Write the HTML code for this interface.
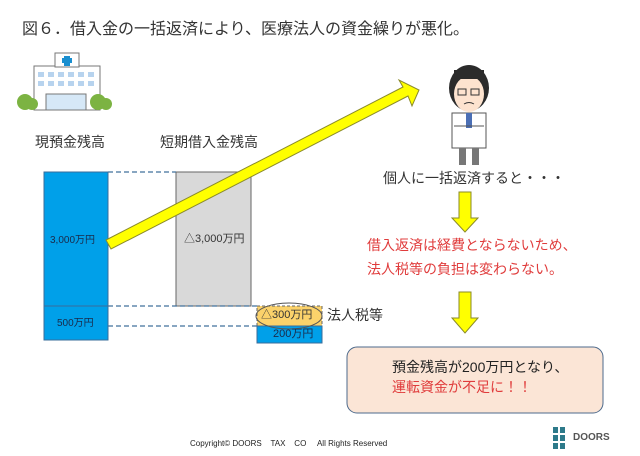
<!DOCTYPE html>
<html><head><meta charset="utf-8"><style>
body{margin:0;width:640px;height:456px;background:#fff;position:relative;overflow:hidden;font-family:"Liberation Sans","Noto Sans CJK JP",sans-serif;color:#333}
.t{position:absolute;white-space:nowrap;line-height:1}
</style></head><body>
<svg width="640" height="456" style="position:absolute;left:0;top:0">
<!-- hospital -->
<rect x="34" y="66" width="66" height="44" fill="#fff" stroke="#777"/>
<rect x="55" y="53" width="24" height="14" fill="#fff" stroke="#777"/>
<rect x="64" y="56" width="6" height="10" fill="#1a8fd0"/><rect x="62" y="58" width="10" height="5" fill="#1a8fd0"/>
<g fill="#b7d3ee"><rect x="38" y="72" width="6" height="5"/><rect x="48" y="72" width="6" height="5"/><rect x="58" y="72" width="6" height="5"/><rect x="68" y="72" width="6" height="5"/><rect x="78" y="72" width="6" height="5"/><rect x="88" y="72" width="6" height="5"/>
<rect x="38" y="81" width="6" height="5"/><rect x="48" y="81" width="6" height="5"/><rect x="58" y="81" width="6" height="5"/><rect x="68" y="81" width="6" height="5"/><rect x="78" y="81" width="6" height="5"/><rect x="88" y="81" width="6" height="5"/></g>
<rect x="46" y="94" width="40" height="16" fill="#d6e8f7" stroke="#777"/>
<circle cx="25" cy="102" r="8" fill="#7cb342"/><circle cx="98" cy="102" r="8" fill="#7cb342"/><circle cx="32" cy="104" r="6" fill="#7cb342"/><circle cx="106" cy="104" r="6" fill="#7cb342"/>
<!-- doctor -->
<ellipse cx="469" cy="88" rx="20" ry="23" fill="#2b2b2b"/>
<ellipse cx="469" cy="94" rx="15" ry="18" fill="#fde3cf"/>
<rect x="454" y="70" width="30" height="9" fill="#2b2b2b"/>
<rect x="458" y="89" width="8" height="6" fill="none" stroke="#333"/><rect x="471" y="89" width="8" height="6" fill="none" stroke="#333"/>
<path d="M464 104 q5 -3 10 0" stroke="#333" fill="none"/>
<path d="M452 113 h34 v35 h-34z" fill="#fff" stroke="#555"/>
<rect x="466" y="113" width="6" height="15" fill="#4b6fb5"/>
<path d="M454 126 h30" stroke="#555"/>
<rect x="459" y="148" width="7" height="17" fill="#777"/><rect x="472" y="148" width="7" height="17" fill="#777"/>
<!-- bars -->
<rect x="44" y="172" width="64" height="168" fill="#00a0e9" stroke="#3a6c9a"/>
<line x1="44" y1="306" x2="108" y2="306" stroke="#3a6c9a"/>
<rect x="176" y="172" width="75" height="134" fill="#d9d9d9" stroke="#666"/>
<rect x="257" y="306" width="65" height="20" fill="#fbd26b" stroke="#666" stroke-dasharray="3,2"/>
<rect x="257" y="326" width="65" height="17" fill="#00a0e9" stroke="#3a6c9a"/>
<g stroke="#41719c" stroke-dasharray="5,3" stroke-width="1.2">
<line x1="108" y1="172" x2="176" y2="172"/><line x1="108" y1="306" x2="257" y2="306"/><line x1="108" y1="326" x2="257" y2="326"/></g>
<ellipse cx="289" cy="316" rx="33" ry="13" fill="none" stroke="#555"/>
<!-- big yellow arrow -->
<polygon points="106,240 403,87 399,80 419,90 412,106 408,96 111,249" fill="#ffff00" stroke="#8a8a2a" stroke-width="1"/>
<!-- down arrows -->
<polygon points="459,192 471,192 471,218 478,218 465,232 452,218 459,218" fill="#ffff00" stroke="#8a8a2a"/>
<polygon points="459,292 471,292 471,318 478,318 465,333 452,318 459,318" fill="#ffff00" stroke="#8a8a2a"/>
<rect x="347" y="347" width="256" height="66" rx="10" fill="#fbe5d6" stroke="#4d6a8c"/>
<!-- logo -->
<g fill="#2d7a8a"><rect x="553" y="427" width="5" height="6"/><rect x="560" y="427" width="5" height="6"/><rect x="553" y="435" width="5" height="6"/><rect x="560" y="435" width="5" height="6"/><rect x="553" y="443" width="5" height="6"/><rect x="560" y="443" width="5" height="6"/></g>
</svg>
<div class="t" style="left:22px;top:22px;font-size:16px">図６．借入金の一括返済により、医療法人の資金繰りが悪化。</div>
<div class="t" style="left:35px;top:135px;font-size:14px">現預金残高</div>
<div class="t" style="left:160px;top:135px;font-size:14px">短期借入金残高</div>
<div class="t" style="left:50px;top:236px;font-size:10px;color:#1a2a4a">3,000万円</div>
<div class="t" style="left:57px;top:319px;font-size:10px;color:#1a2a4a">500万円</div>
<div class="t" style="left:184px;top:234px;font-size:11px;color:#333">△3,000万円</div>
<div class="t" style="left:261px;top:310px;font-size:11px;color:#333">△300万円</div>
<div class="t" style="left:273px;top:329px;font-size:11px;color:#1a2a4a">200万円</div>
<div class="t" style="left:327px;top:308px;font-size:14px">法人税等</div>
<div class="t" style="left:383px;top:171px;font-size:14px">個人に一括返済すると・・・</div>
<div class="t" style="left:367px;top:238px;font-size:14px;color:#e03c3c">借入返済は経費とならないため、</div>
<div class="t" style="left:367px;top:262px;font-size:14px;color:#e03c3c">法人税等の負担は変わらない。</div>
<div class="t" style="left:392px;top:360px;font-size:14px;color:#222">預金残高が200万円となり、</div>
<div class="t" style="left:392px;top:380px;font-size:14px;color:#e03c3c">運転資金が不足に！！</div>
<div class="t" style="left:190px;top:440px;font-size:8px;color:#222">Copyright© DOORS&nbsp;&nbsp;&nbsp; TAX&nbsp;&nbsp;&nbsp; CO&nbsp;&nbsp;&nbsp;&nbsp; All Rights Reserved</div>
<div class="t" style="left:573px;top:433px;font-size:10px;font-weight:bold;color:#555">DOORS</div>
</body></html>
